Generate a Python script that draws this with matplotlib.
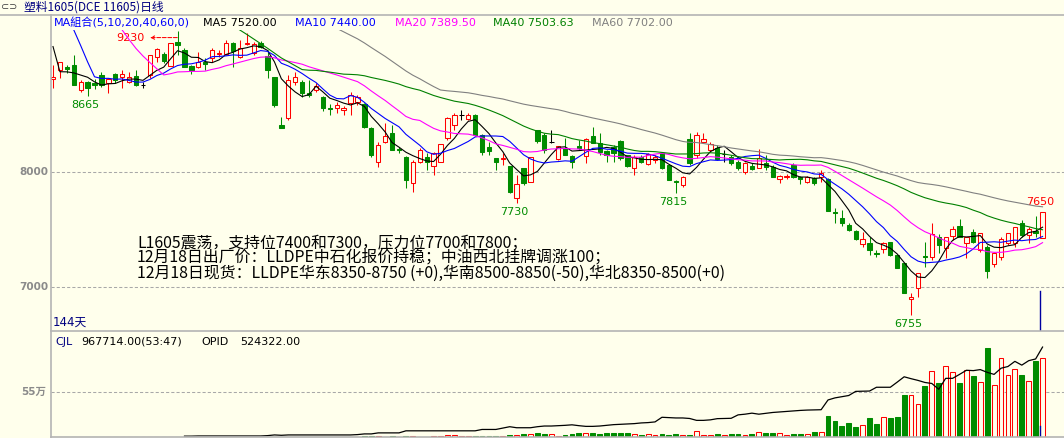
import numpy as np
import pandas as pd
import matplotlib
matplotlib.use("Agg")
import matplotlib.pyplot as plt
from matplotlib.lines import Line2D
from matplotlib.transforms import offset_copy, blended_transform_factory

plt.rcParams['font.family'] = ['DejaVu Sans', 'Noto Sans CJK SC']

# ---- 塑料1605 daily bars, 144 days ----
opens = [8810, 8885, 8915, 8930, 8715, 8785, 8775, 8845, 8775, 8850,
         8825, 8785, 8835, 8755, 8845, 9000, 9025, 8920, 9130, 9060,
         8920, 8915, 8955, 8990, 9025, 9025, 9120, 9000, 9115, 9035,
         9120, 9010, 8825, 8410, 8470, 8785, 8785, 8685, 8715, 8650,
         8555, 8555, 8540, 8600, 8610, 8590, 8385, 8085, 8260, 8340,
         8200, 8130, 7905, 8085, 8130, 8050, 8085, 8295, 8410, 8495,
         8460, 8495, 8320, 8215, 8120, 8115, 8050, 7775, 8035, 7915,
         8365, 8320, 8260, 8115, 8210, 8140, 8225, 8140, 8315, 8250,
         8185, 8215, 8270, 8150, 8035, 8130, 8070, 8105, 8165, 8060,
         7920, 7885, 8285, 8150, 8260, 8190, 8210, 8155, 8130, 8085,
         8000, 8050, 8035, 8080, 8045, 7940, 7955, 8060, 7955, 7915,
         7950, 7955, 7940, 7650, 7600, 7540, 7485, 7375, 7385, 7295,
         7330, 7390, 7280, 7210, 6895, 6990, 7270, 7260, 7435, 7340,
         7445, 7530, 7385, 7480, 7320, 7350, 7200, 7260, 7385, 7385,
         7555, 7450, 7490, 7425]
highs = [8930, 8955, 8930, 9015, 8800, 8790, 8810, 8870, 8815, 8860,
         8885, 8870, 8885, 8785, 9015, 9080, 9045, 9120, 9230, 9080,
         8930, 9045, 8990, 9080, 9060, 9150, 9130, 9150, 9210, 9130,
         9140, 9060, 8825, 8480, 8845, 8870, 8800, 8800, 8775, 8660,
         8590, 8610, 8575, 8695, 8670, 8600, 8390, 8260, 8425, 8410,
         8215, 8140, 8105, 8210, 8165, 8175, 8245, 8480, 8515, 8540,
         8515, 8505, 8330, 8260, 8120, 8165, 8050, 7975, 8035, 8130,
         8365, 8340, 8365, 8225, 8295, 8150, 8280, 8295, 8390, 8340,
         8190, 8235, 8280, 8150, 8150, 8150, 8165, 8150, 8175, 8070,
         7930, 7965, 8340, 8350, 8340, 8260, 8235, 8190, 8150, 8105,
         8085, 8080, 8200, 8150, 8060, 7975, 7985, 8080, 7965, 7965,
         7955, 8015, 7950, 7685, 7670, 7555, 7495, 7480, 7435, 7320,
         7390, 7390, 7280, 7210, 6950, 7120, 7390, 7555, 7460, 7435,
         7530, 7590, 7435, 7505, 7470, 7365, 7305, 7435, 7470, 7520,
         7585, 7520, 7615, 7650]
lows = [8730, 8815, 8860, 8755, 8695, 8665, 8720, 8740, 8685, 8775,
        8730, 8775, 8750, 8730, 8815, 8955, 8950, 8920, 9015, 8915,
        8850, 8905, 8885, 8955, 9000, 9015, 8915, 8990, 9105, 9015,
        9080, 8815, 8565, 8385, 8450, 8755, 8650, 8650, 8695, 8530,
        8495, 8515, 8495, 8495, 8585, 8385, 8130, 8045, 8250, 8190,
        8165, 7860, 7825, 8080, 8015, 7975, 8085, 8280, 8365, 8450,
        8450, 8315, 8150, 8150, 8015, 8060, 7815, 7730, 7885, 7915,
        8250, 8165, 8250, 8105, 8150, 8035, 8190, 8080, 8250, 8150,
        8085, 8085, 8105, 8045, 7975, 8080, 8060, 8080, 8025, 7930,
        7815, 7870, 8060, 8120, 8250, 8175, 8105, 8085, 8060, 8015,
        7985, 8015, 8035, 8015, 7955, 7905, 7940, 7950, 7895, 7905,
        7885, 7915, 7660, 7555, 7530, 7485, 7410, 7350, 7280, 7260,
        7295, 7270, 7165, 6950, 6755, 6915, 7175, 7235, 7295, 7250,
        7410, 7435, 7250, 7385, 7305, 7080, 7175, 7235, 7365, 7350,
        7435, 7385, 7435, 7425]
closes = [8825, 8955, 8895, 8755, 8785, 8730, 8755, 8755, 8810, 8800,
          8850, 8825, 8755, 8755, 9015, 9070, 8965, 9120, 9105, 8915,
          8885, 8955, 8940, 9060, 9035, 9120, 9050, 9080, 9120, 9115,
          9085, 8885, 8585, 8385, 8800, 8825, 8685, 8670, 8750, 8555,
          8550, 8585, 8555, 8670, 8650, 8390, 8150, 8235, 8315, 8190,
          8190, 7930, 8085, 8190, 8085, 8165, 8245, 8470, 8495, 8495,
          8495, 8320, 8175, 8185, 8085, 8120, 7825, 7895, 7905, 8130,
          8270, 8190, 8260, 8225, 8150, 8085, 8210, 8285, 8250, 8175,
          8150, 8165, 8120, 8050, 8130, 8085, 8155, 8130, 8035, 7930,
          7915, 7955, 8080, 8320, 8285, 8245, 8115, 8155, 8080, 8035,
          8080, 8025, 8120, 8045, 7955, 7965, 7965, 7955, 7940, 7955,
          7905, 7990, 7660, 7645, 7555, 7495, 7415, 7415, 7320, 7285,
          7385, 7280, 7165, 6950, 6915, 7120, 7260, 7460, 7365, 7435,
          7505, 7435, 7435, 7390, 7470, 7140, 7295, 7415, 7470, 7520,
          7455, 7505, 7470, 7650]
# closes before the window (off chart), estimated from where the MA lines enter
closes_before = [10400, 10450, 10500, 10550, 10550, 10530,
                 10650, 10700, 10700, 10500, 10300, 10055,
                 10150, 10150, 10050, 8900, 8800, 8880]
volumes = [1500, 1000, 800, 1200, 900, 1100, 700, 900, 1000, 800,
           900, 700, 1000, 600, 1500, 1300, 900, 1600, 1800, 1400,
           1000, 1100, 900, 1300, 1000, 1400, 1200, 1300, 1500, 1200,
           1100, 2200, 3000, 3500, 3200, 2000, 2500, 2000, 1800, 2600,
           2400, 2200, 2300, 3000, 2500, 8000, 17000, 17000, 6000, 7000,
           6000, 17000, 17000, 5000, 6000, 7000, 8000, 25000, 25000, 7000,
           8000, 9000, 17000, 17000, 17000, 17000, 29000, 29000, 42000, 42000,
           50000, 42000, 37000, 17000, 29000, 37000, 50000, 50000, 50000, 37000,
           50000, 50000, 50000, 50000, 33000, 25000, 37000, 25000, 33000, 25000,
           37000, 25000, 25000, 75000, 25000, 25000, 37000, 25000, 37000, 37000,
           25000, 37000, 58000, 50000, 50000, 50000, 25000, 37000, 37000, 37000,
           62000, 62000, 254000, 191000, 129000, 167000, 117000, 150000, 229000, 154000,
           250000, 229000, 241000, 516000, 516000, 400000, 629000, 812000, 654000, 862000,
           799000, 654000, 820000, 741000, 674000, 1091000, 637000, 962000, 762000, 837000,
           754000, 679000, 928000, 967714]
# open interest, starts on day 19
oi_start = 19
open_interest = [5000, 5000, 6000, 6000, 6000, 6000, 6000, 6000, 6000, 6000, 6000,
                 6000, 8000, 12000,
                 10000, 12000, 12000, 12000, 12000, 12000, 12000, 12000, 12000, 12000, 12000, 14000,
                 18000, 18000, 24000, 24000, 24000, 24000,
                 36000, 36000, 36000, 36000, 36000, 36000, 36000, 36000, 36000, 36000, 36000,
                 44000, 44000, 44000,
                 52000, 60000, 54000, 54000, 54000,
                 60000, 64000, 64000, 66000, 68000, 71000, 66000, 62000, 62000, 64000,
                 68000, 72000, 74000, 76000, 78000, 82000, 84000, 88000,
                 115000, 113000, 111000, 111000, 108000, 97000, 97000, 100000, 107000, 108000, 109000,
                 129000, 133000, 139000, 133000, 138000, 143000, 146000, 149000, 152000, 155000,
                 157000, 158000, 159000,
                 216000, 228000, 235000, 242000, 266000, 267000, 268000, 290000, 290000, 290000,
                 320000, 351000, 340000, 330000, 318000, 312000, 278000, 342000, 342000, 365000,
                 389000, 387000, 393000, 377000, 365000, 401000, 411000, 441000, 419000, 445000,
                 455000, 524322]

ma_periods = [5, 10, 20, 40, 60]
ma_colors = ['#000000', '#0000ff', '#ff00ff', '#008000', '#808080']
ma_last = ['7520.00', '7440.00', '7389.50', '7503.63', '7702.00']
ma_label_x = [203, 295, 395, 493, 592]

# marked highs / lows: (day, 'high' or 'low')
marks = [(5, 'low'), (67, 'low'), (90, 'low'), (124, 'low'), (143, 'high')]
top_day = 18

BG = '#ffffec'
RED = '#ff0000'
GREEN = '#008c00'
GRID = '#a8a8a8'
LW = 0.75

W, H = 1064, 438
def fx(px):
    return px / W
def fy(py):
    return 1 - py / H

fig = plt.figure(figsize=(W / 100, H / 100), dpi=100, facecolor=BG)
ax = fig.add_axes([fx(51), fy(331), fx(1013), fy(30) - fy(331)])
axv = fig.add_axes([fx(51), fy(437), fx(1013), fy(331) - fy(437)])
axo = axv.twinx()
for a in (ax, axv, axo):
    a.set_axis_off()

n = len(closes)
x = np.arange(n)
o = np.array(opens, float)
h = np.array(highs, float)
l = np.array(lows, float)
c = np.array(closes, float)
up = c > o
dn = c < o
fl = c == o

ax.set_xlim(-0.29, 146.1)
ax.set_ylim(6617, 9235)
axv.set_xlim(-0.29, 146.1)
axv.set_ylim(0, 1295500)
axo.set_ylim(0, 618000)

# grid
for p in (8000, 7000):
    ax.axhline(p, color=GRID, lw=LW, ls=(0, (3, 2)), zorder=0)
axv.axhline(550000, color=GRID, lw=LW, ls=(0, (3, 2)), zorder=0)

# candles
ax.vlines(x[up], c[up], h[up], color=RED, lw=LW, zorder=2)
ax.vlines(x[up], l[up], o[up], color=RED, lw=LW, zorder=2)
ax.bar(x[up], c[up] - o[up], bottom=o[up], width=0.62, facecolor=BG,
       edgecolor=RED, lw=LW, zorder=3)
ax.vlines(x[dn], l[dn], h[dn], color=GREEN, lw=LW, zorder=2)
ax.bar(x[dn], o[dn] - c[dn], bottom=c[dn], width=0.62, facecolor=GREEN,
       edgecolor=GREEN, lw=LW, zorder=3)
ax.vlines(x[fl], l[fl], h[fl], color='black', lw=LW, zorder=2)
ax.hlines(o[fl], x[fl] - 0.33, x[fl] + 0.33, color='black', lw=LW, zorder=2)

# moving averages
all_close = pd.Series(closes_before + closes, dtype=float)
k = len(closes_before)
for per, col in zip(ma_periods, ma_colors):
    ma = all_close.rolling(per).mean().to_numpy()[k:]
    ax.plot(x, ma, color=col, lw=0.8, zorder=4)

# high / low labels
for d, kind in marks:
    if kind == 'low':
        tr = offset_copy(ax.transData, fig=fig, x=-2.5, y=-4, units='dots')
        ax.text(d, lows[d], str(lows[d]), transform=tr, ha='center', va='top',
                color=GREEN, fontsize=8)
    else:
        tr = offset_copy(ax.transData, fig=fig, x=-2.5, y=5, units='dots')
        ax.text(d, highs[d], str(highs[d]), transform=tr, ha='center',
                va='bottom', color=RED, fontsize=8)
ax.annotate(str(highs[top_day]), xy=(top_day, highs[top_day]),
            xycoords=offset_copy(ax.transData, fig=fig, y=-7, units='dots'),
            xytext=(-33, 0), textcoords='offset pixels', ha='right',
            va='center', color=RED, fontsize=8,
            arrowprops=dict(arrowstyle='<-', color=RED, lw=LW, ls='--',
                            shrinkA=2, shrinkB=0, mutation_scale=6))

# cursor line at the last day
ax.plot([n - 1.4, n - 1.4], [0, 0.133], color='#0000a0', lw=1,
        transform=blended_transform_factory(ax.transData, ax.transAxes), zorder=5)
axv.plot([n - 1.4, n - 1.4], [0, 0.1], color='#0000a0', lw=1,
         transform=blended_transform_factory(axv.transData, axv.transAxes), zorder=5)

# volume bars and open interest
vol = np.array(volumes, float)
vup = c >= o
axv.bar(x[vup], vol[vup], width=0.7, facecolor=BG, edgecolor=RED, lw=LW, zorder=2)
axv.bar(x[~vup], vol[~vup], width=0.7, facecolor=GREEN, edgecolor=GREEN, lw=LW, zorder=2)
axo.plot(x[oi_start:], open_interest, color='black', lw=0.9, zorder=3)

# y labels
lbl = dict(ha='right', va='center', color='#8a8a8a', fontsize=7.5, fontweight='bold')
for p in (8000, 7000):
    ax.text(-3 / 1013, p, str(p), transform=ax.get_yaxis_transform(), **lbl)
axv.text(-5 / 1013, 550000, '55万', transform=axv.get_yaxis_transform(), **lbl)

# frame lines
def fline(x0, y0, x1, y1):
    fig.add_artist(Line2D([fx(x0), fx(x1)], [fy(y0), fy(y1)], transform=fig.transFigure,
                          color='#b4b4b4', lw=1.2))
fline(0, 14.5, W, 14.5)
fline(51, 14.5, 51, H)
fline(51, 331, W, 331)
fline(51, 437, W, 437)

# title and legends
fig.text(fx(1), fy(7), '⊂⊃', color='#404040', fontsize=7, va='center')
fig.text(fx(24), fy(7), '塑料1605(DCE 11605)日线', color='#000080', fontsize=8.5,
         va='center', family=['Noto Sans CJK SC'])
fig.text(fx(54), fy(23), 'MA組合(5,10,20,40,60,0)', color='#0000ff', fontsize=8, va='center')
for per, col, val, px in zip(ma_periods, ma_colors, ma_last, ma_label_x):
    fig.text(fx(px), fy(23), f'MA{per} {val}', color=col, fontsize=8, va='center')

fig.text(fx(53), fy(322), '144天', color='#000080', fontsize=8.5, va='center')

fig.text(fx(55), fy(342), 'CJL', color='#000080', fontsize=8, va='center')
fig.text(fx(81), fy(342), f'{volumes[-1]}.00(53:47)', color='black', fontsize=8, va='center')
fig.text(fx(201), fy(342), 'OPID', color='black', fontsize=8, va='center')
fig.text(fx(240), fy(342), f'{open_interest[-1]}.00', color='black', fontsize=8, va='center')

notes = ['L1605震荡，支持位7400和7300，压力位7700和7800；',
         '12月18日出厂价：LLDPE中石化报价持稳；中油西北挂牌调涨100；',
         '12月18日现货：LLDPE华东8350-8750 (+0),华南8500-8850(-50),华北8350-8500(+0)']
for j, line in enumerate(notes):
    fig.text(fx(137), fy(243.5 + 15 * j), line, color='black', fontsize=11.4,
             va='center', family=['Noto Sans CJK SC'])

fig.savefig('out.png', dpi=100, facecolor=BG)
